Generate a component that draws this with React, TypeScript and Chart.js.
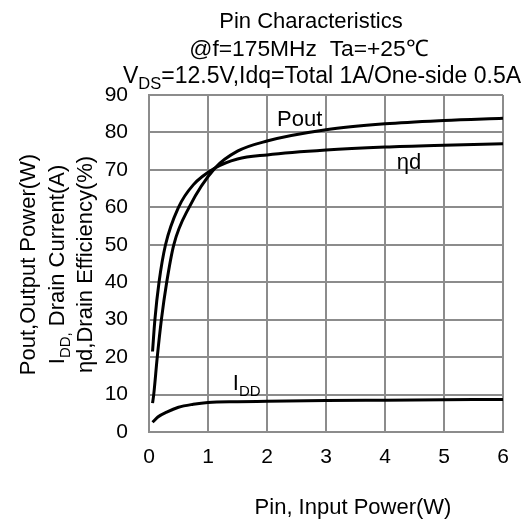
import React, { useEffect, useRef } from "react";
import { Chart, registerables } from "chart.js";

Chart.register(...registerables);

// ---- data ----
const POUT_X = [0.06, 0.08, 0.14, 0.21, 0.3, 0.42, 0.68, 1.12, 1.5, 2, 3, 4, 5, 6];
const POUT_Y = [7.7, 10, 20, 30, 40, 50, 60, 70.5, 75.0, 77.7, 80.7, 82.3, 83.2, 83.8];

const ETA_X = [0.06, 0.1, 0.17, 0.28, 0.5, 0.75, 1.12, 1.5, 2, 3, 4, 5, 6];
const ETA_Y = [21.5, 30, 40, 50, 60, 66, 70.5, 72.9, 74.0, 75.3, 76.1, 76.6, 77.0];

const IDD_X = [0.06, 0.15, 0.3, 0.5, 0.75, 1, 1.5, 2, 3, 4, 5, 6];
const IDD_Y = [2.6, 4.0, 5.3, 6.6, 7.4, 7.9, 8.1, 8.2, 8.4, 8.5, 8.6, 8.7];

const X_MIN = 0, X_MAX = 6, X_STEP = 1;
const Y_MIN = 0, Y_MAX = 90, Y_STEP = 10;

const TITLE_1 = "Pin Characteristics";
const TITLE_2 = "@f=175MHz  Ta=+25\u2103";
const TITLE_3 = [{ t: "V" }, { t: "DS", sub: true }, { t: "=12.5V,Idq=Total 1A/One-side 0.5A" }];
const Y_TITLE_1 = [{ t: "Pout,Output Power(W)" }];
const Y_TITLE_2 = [{ t: "I" }, { t: "DD,", sub: true }, { t: " Drain Current(A)" }];
const Y_TITLE_3 = [{ t: "\u03b7d,Drain Efficiency(%)" }];
const X_TITLE = "Pin, Input Power(W)";
const LABEL_POUT = "Pout";
const LABEL_ETA = "\u03b7d";
const LABEL_IDD = [{ t: "I" }, { t: "DD", sub: true }];

const FAMILY = '"Liberation Sans", Arial, Helvetica, sans-serif';
const FS = 22;
const SUB_FS = 15;
const GRID = "#8c8c8c";

type Part = { t: string; sub?: boolean };

function toPts(xs: number[], ys: number[]) {
  return xs.map((x, i) => ({ x, y: ys[i] }));
}

function richWidth(ctx: CanvasRenderingContext2D, parts: Part[], fs: number, sfs: number) {
  let w = 0;
  for (const p of parts) {
    ctx.font = `${p.sub ? sfs : fs}px ${FAMILY}`;
    w += ctx.measureText(p.t).width;
  }
  return w;
}

function drawRich(
  ctx: CanvasRenderingContext2D,
  parts: Part[],
  x: number,
  y: number,
  align: "left" | "center",
  fs = FS,
  sfs = SUB_FS,
  subShift = 6
) {
  const w = richWidth(ctx, parts, fs, sfs);
  let cx = align === "center" ? x - w / 2 : x;
  ctx.textAlign = "left";
  ctx.textBaseline = "alphabetic";
  for (const p of parts) {
    ctx.font = `${p.sub ? sfs : fs}px ${FAMILY}`;
    ctx.fillText(p.t, cx, y + (p.sub ? subShift : 0));
    cx += ctx.measureText(p.t).width;
  }
}

const textPlugin = {
  id: "texts",
  afterDraw(chart: any) {
    const ctx: CanvasRenderingContext2D = chart.ctx;
    const xs = chart.scales.x;
    const ys = chart.scales.y;
    ctx.save();
    ctx.fillStyle = "#000";
    // titles
    drawRich(ctx, [{ t: TITLE_1 }], 311, 28, "center");
    drawRich(ctx, [{ t: TITLE_2 }], 309, 56, "center", 22.8);
    drawRich(ctx, TITLE_3, 123, 83, "left", 23, 16.5, 6);
    // x title
    drawRich(ctx, [{ t: X_TITLE }], 353, 514, "center");
    // y titles (rotated)
    const cy = (chart.chartArea.top + chart.chartArea.bottom) / 2 + 1;
    const yLines: [Part[], number][] = [
      [Y_TITLE_1, 35],
      [Y_TITLE_2, 64],
      [Y_TITLE_3, 92],
    ];
    for (const [parts, bx] of yLines) {
      ctx.save();
      ctx.translate(bx, cy);
      ctx.rotate(-Math.PI / 2);
      drawRich(ctx, parts, 0, 0, "center");
      ctx.restore();
    }
    // in-plot labels, anchored to data coordinates
    drawRich(ctx, [{ t: LABEL_POUT }], xs.getPixelForValue(2.17), ys.getPixelForValue(81.8), "left");
    drawRich(ctx, [{ t: LABEL_ETA }], xs.getPixelForValue(4.2), ys.getPixelForValue(70.2), "left");
    drawRich(ctx, LABEL_IDD, xs.getPixelForValue(1.42), ys.getPixelForValue(11.2), "left");
    ctx.restore();
  },
};

export default function App() {
  const ref = useRef<HTMLCanvasElement | null>(null);
  useEffect(() => {
    if (!ref.current) return;
    const lineStyle = {
      showLine: true,
      borderColor: "#000",
      backgroundColor: "#000",
      borderWidth: 3,
      pointRadius: 0,
      pointHoverRadius: 0,
      cubicInterpolationMode: "monotone" as const,
      fill: false,
    };
    const chart = new Chart(ref.current, {
      type: "scatter",
      data: {
        datasets: [
          { label: "Pout", data: toPts(POUT_X, POUT_Y), ...lineStyle },
          { label: "nd", data: toPts(ETA_X, ETA_Y), ...lineStyle },
          { label: "IDD", data: toPts(IDD_X, IDD_Y), ...lineStyle },
        ],
      },
      options: {
        animation: false,
        responsive: false,
        devicePixelRatio: 1,
        layout: { padding: { top: 95, right: 26, left: 0, bottom: 0 } },
        plugins: { legend: { display: false }, tooltip: { enabled: false }, title: { display: false } },
        scales: {
          x: {
            type: "linear",
            min: X_MIN,
            max: X_MAX,
            ticks: { stepSize: X_STEP, color: "#000", font: { size: 21, family: FAMILY }, padding: 13, maxRotation: 0 },
            grid: { color: GRID, lineWidth: 2, drawTicks: false },
            border: { color: GRID, width: 2 },
            afterFit: (s: any) => {
              s.height = 89;
            },
          },
          y: {
            type: "linear",
            min: Y_MIN,
            max: Y_MAX,
            ticks: { stepSize: Y_STEP, color: "#000", font: { size: 21, family: FAMILY }, padding: 21 },
            grid: { color: GRID, lineWidth: 2, drawTicks: false },
            border: { color: GRID, width: 2 },
            afterFit: (s: any) => {
              s.width = 149;
            },
          },
        },
      },
      plugins: [textPlugin],
    });
    return () => chart.destroy();
  }, []);
  return (
    <div style={{ position: "absolute", left: 0, top: 0, width: 529, height: 521, background: "#fff" }}>
      <canvas ref={ref} width={529} height={521} style={{ width: 529, height: 521, display: "block" }} />
    </div>
  );
}
